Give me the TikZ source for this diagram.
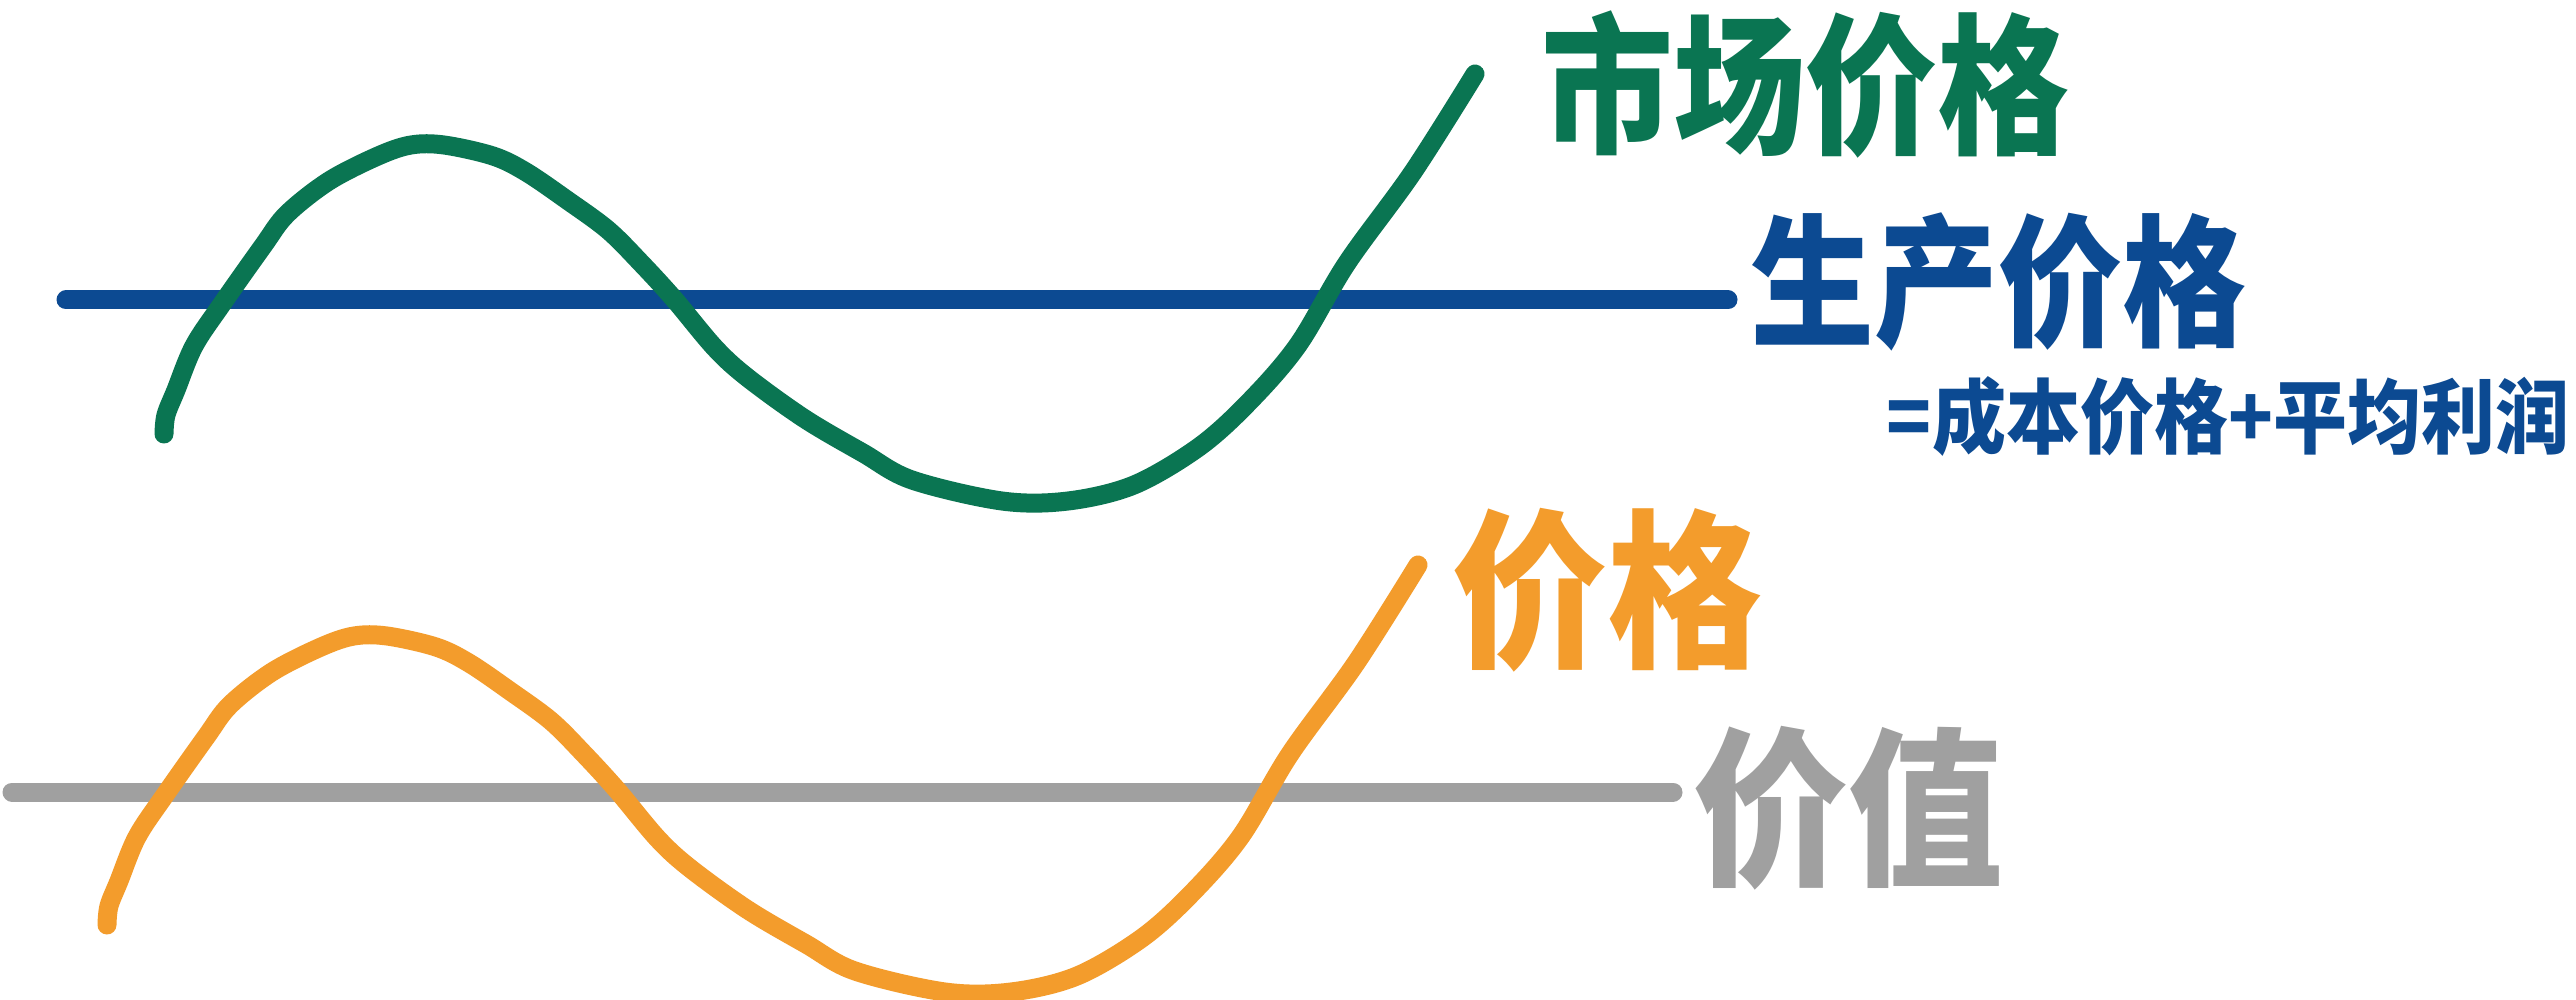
\documentclass[tikz,border=0pt]{standalone}
\usepackage{fontspec}
\newfontfamily\cjk{Noto Sans CJK SC}
\definecolor{cgreen}{HTML}{0A7552}
\definecolor{cblue}{HTML}{0C4A92}
\definecolor{corange}{HTML}{F39C2C}
\definecolor{cgray}{HTML}{A0A0A0}
\begin{document}
\begin{tikzpicture}[x=1pt,y=-1pt,
  stroke/.style={line width=19pt,line cap=round,line join=round},
  lbl/.style={inner sep=0pt,font=\cjk\bfseries}]
\useasboundingbox[fill=white] (0,0) rectangle (2576,1000);
% horizontal lines
\coordinate (b1) at (66,300);
\coordinate (b2) at (1728,300);
\draw[stroke,cblue] (b1) -- (b2);
\coordinate (g1) at (12,792);
\coordinate (g2) at (1673,792);
\draw[stroke,cgray] (g1) -- (g2);
% green curve
\def\wave{plot[smooth,tension=0.55] coordinates {(164,434) (166,415) (176,390) (194,346) (222,304) (263,246) (287,214) (329,181) (378,156) (411,145) (444,145) (493,156) (526,172) (567,200) (608,230) (641,263) (674,299) (715,348) (748,378) (805,419) (863,453) (912,480) (1002,501) (1068,501) (1134,485) (1199,447) (1249,402) (1298,345) (1347,263) (1413,172) (1475,74)}}
\draw[stroke,cgreen] \wave;
\begin{scope}[shift={(-57,491)}]
\draw[stroke,corange] \wave;
\end{scope}
% labels
\node[lbl,cgreen,font=\cjk\bfseries\fontsize{132}{132}\selectfont,yscale=1.15] (mp) at (1805,85) {市场价格};
\node[lbl,cblue,font=\cjk\bfseries\fontsize{124}{124}\selectfont,yscale=1.15] (pp) at (1998,282) {生产价格};
\node[lbl,cblue,font=\cjk\bfseries\fontsize{74}{74}\selectfont,yscale=1.1] (cp) at (2228,416) {=成本价格+平均利润};
\node[lbl,corange,font=\cjk\bfseries\fontsize{155}{155}\selectfont,yscale=1.1] (pr) at (1607,590) {价格};
\node[lbl,cgray,font=\cjk\bfseries\fontsize{155}{155}\selectfont,yscale=1.1] (va) at (1848,808) {价值};
\end{tikzpicture}
\end{document}
